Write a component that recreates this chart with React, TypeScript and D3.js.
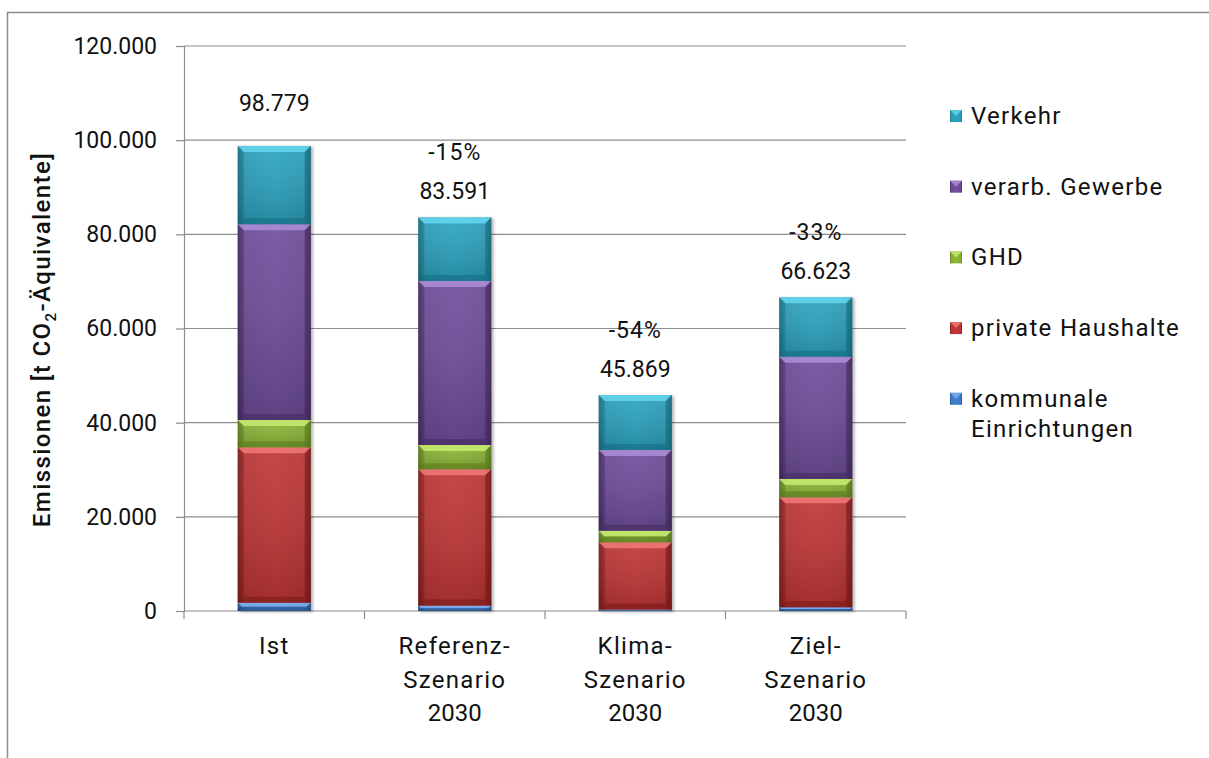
import React, { useEffect, useRef } from 'react';
import * as d3 from 'd3';

const categories = ['Ist', 'Referenz-\nSzenario\n2030', 'Klima-\nSzenario\n2030', 'Ziel-\nSzenario\n2030'];
const kommunale = [1760, 1150, 300, 800];
const privateHH = [33000, 28950, 14300, 23350];
const ghd = [5800, 5150, 2450, 3900];
const verarb = [41600, 34850, 17150, 25950];
const verkehr = [16619, 13491, 11669, 12623];
const totalLabels = ['98.779', '83.591', '45.869', '66.623'];
const pctLabels = ['', '-15%', '-54%', '-33%'];
const yTicks = [0, 20000, 40000, 60000, 80000, 100000, 120000];

const seriesNames = ['kommunale Einrichtungen', 'private Haushalte', 'GHD', 'verarb. Gewerbe', 'Verkehr'];
const seriesValues = [kommunale, privateHH, ghd, verarb, verkehr];
const seriesColors = [
  { base: '#3f78c4', light: '#7fb0ee', dark: '#244e86' },
  { base: '#b73333', light: '#f07a78', dark: '#7a1a1a' },
  { base: '#86ad35', light: '#c8ec72', dark: '#5a7a1e' },
  { base: '#6a4a94', light: '#ab8fd8', dark: '#43295f' },
  { base: '#2a9bb6', light: '#66d6ee', dark: '#176c80' },
];

const FONT = 'Roboto, "DejaVu Sans", sans-serif';

const App = () => {
  const svgRef = useRef<SVGSVGElement>(null);

  useEffect(() => {
    document.body.style.margin = '0';
    const svg = d3.select(svgRef.current);
    svg.selectAll('*').remove();

    const W = 1209;
    const H = 758;
    svg.attr('width', W).attr('height', H);

    // outer frame (runs off the right and bottom edge)
    svg.append('rect')
      .attr('x', 7.5).attr('y', 12.5)
      .attr('width', W + 20).attr('height', H + 20)
      .attr('fill', 'white').attr('stroke', '#8c8c8c').attr('stroke-width', 1.5);

    const x = d3.scaleBand<number>()
      .domain(d3.range(categories.length))
      .range([184, 906])
      .paddingInner(0.595)
      .paddingOuter(0.2975);

    const y = d3.scaleLinear().domain([0, 120000]).range([611, 46]);

    const defs = svg.append('defs');
    seriesColors.forEach((c, i) => {
      const g = defs.append('linearGradient').attr('id', `grad${i}`)
        .attr('x1', 0).attr('x2', 1).attr('y1', 0).attr('y2', 0);
      g.append('stop').attr('offset', '0%').attr('stop-color', c.dark);
      g.append('stop').attr('offset', '10%').attr('stop-color', c.base);
      g.append('stop').attr('offset', '50%').attr('stop-color', d3.color(c.base)!.brighter(0.15).formatHex());
      g.append('stop').attr('offset', '90%').attr('stop-color', c.base);
      g.append('stop').attr('offset', '100%').attr('stop-color', c.dark);
      const v = defs.append('linearGradient').attr('id', `vgrad${i}`)
        .attr('x1', 0).attr('x2', 0).attr('y1', 0).attr('y2', 1);
      v.append('stop').attr('offset', '0%').attr('stop-color', 'white').attr('stop-opacity', 0.08);
      v.append('stop').attr('offset', '100%').attr('stop-color', 'black').attr('stop-opacity', 0.15);
    });
    const shadow = defs.append('filter').attr('id', 'shadow')
      .attr('x', '-20%').attr('y', '-5%').attr('width', '140%').attr('height', '110%');
    shadow.append('feDropShadow').attr('dx', 2).attr('dy', 1).attr('stdDeviation', 1.5)
      .attr('flood-color', '#000').attr('flood-opacity', 0.3);

    // gridlines
    svg.append('g')
      .selectAll('line')
      .data(yTicks.slice(1))
      .enter()
      .append('line')
      .attr('x1', 184).attr('x2', 906)
      .attr('y1', d => y(d)).attr('y2', d => y(d))
      .attr('stroke', '#8c8c8c').attr('stroke-width', 1.2);

    // y axis
    const yAxis = svg.append('g')
      .attr('transform', 'translate(184,0)')
      .call(d3.axisLeft(y).tickValues(yTicks).tickSize(8).tickPadding(19)
        .tickFormat(d => d3.format(',')(d as number).replace(/,/g, '.')));
    yAxis.select('.domain').attr('stroke', '#8c8c8c').attr('stroke-width', 1.2);
    yAxis.selectAll('.tick line').attr('stroke', '#8c8c8c').attr('stroke-width', 1.2);
    yAxis.selectAll('.tick text')
      .attr('fill', '#111').style('font-size', '23px').style('font-family', FONT);

    // x axis
    const step = x.step();
    svg.append('line')
      .attr('x1', 184).attr('x2', 906).attr('y1', y(0)).attr('y2', y(0))
      .attr('stroke', '#8c8c8c').attr('stroke-width', 1.2);
    svg.append('g')
      .selectAll('line')
      .data(d3.range(categories.length + 1))
      .enter()
      .append('line')
      .attr('x1', d => 184 + d * step).attr('x2', d => 184 + d * step)
      .attr('y1', y(0)).attr('y2', y(0) + 8)
      .attr('stroke', '#8c8c8c').attr('stroke-width', 1.2);

    // stacked bars
    const bars = svg.append('g');
    categories.forEach((_, ci) => {
      const bx = x(ci)!;
      const bw = x.bandwidth();
      const group = bars.append('g').attr('filter', 'url(#shadow)');
      let acc = 0;
      seriesValues.forEach((vals, si) => {
        const v = vals[ci];
        const y0 = y(acc + v);
        const y1 = y(acc);
        acc += v;
        const h = y1 - y0;
        const c = seriesColors[si];
        const b = Math.min(6, h / 2);
        const seg = group.append('g');
        seg.append('rect')
          .attr('x', bx).attr('y', y0).attr('width', bw).attr('height', h)
          .attr('fill', `url(#grad${si})`);
        seg.append('rect')
          .attr('x', bx).attr('y', y0).attr('width', bw).attr('height', h)
          .attr('fill', `url(#vgrad${si})`);
        // top bevel
        seg.append('path')
          .attr('d', `M${bx},${y0}L${bx + bw},${y0}L${bx + bw - b},${y0 + b}L${bx + b},${y0 + b}Z`)
          .attr('fill', c.light).attr('opacity', 0.85);
        // bottom bevel
        seg.append('path')
          .attr('d', `M${bx},${y1}L${bx + bw},${y1}L${bx + bw - b},${y1 - b}L${bx + b},${y1 - b}Z`)
          .attr('fill', c.dark).attr('opacity', 0.55);
        // left / right bevels
        seg.append('path')
          .attr('d', `M${bx},${y0}L${bx + b},${y0 + b}L${bx + b},${y1 - b}L${bx},${y1}Z`)
          .attr('fill', c.dark).attr('opacity', 0.3);
        seg.append('path')
          .attr('d', `M${bx + bw},${y0}L${bx + bw - b},${y0 + b}L${bx + bw - b},${y1 - b}L${bx + bw},${y1}Z`)
          .attr('fill', c.dark).attr('opacity', 0.55);
      });
    });

    // value labels
    categories.forEach((_, ci) => {
      const total = seriesValues.reduce((s, vals) => s + vals[ci], 0);
      const cx = x(ci)! + x.bandwidth() / 2;
      const top = y(total);
      svg.append('text')
        .attr('x', cx).attr('y', pctLabels[ci] ? top - 18 : top - 35)
        .attr('text-anchor', 'middle')
        .style('font-family', FONT).style('font-size', '23px').attr('fill', '#111')
        .text(totalLabels[ci]);
      if (pctLabels[ci]) {
        svg.append('text')
          .attr('x', cx).attr('y', top - 57)
          .attr('text-anchor', 'middle')
          .style('font-family', FONT).style('font-size', '23px').attr('fill', '#111')
          .style('letter-spacing', '1px')
          .text(pctLabels[ci]);
      }
    });

    // category labels
    categories.forEach((label, ci) => {
      const cx = x(ci)! + x.bandwidth() / 2;
      const t = svg.append('text')
        .attr('text-anchor', 'middle')
        .style('font-family', FONT).style('font-size', '24px').attr('fill', '#111');
      label.split('\n').forEach((line, li) => {
        t.append('tspan').attr('x', cx).attr('y', 654 + li * 33.5)
          .style('letter-spacing', /^\d+$/.test(line) ? '0px' : '1.3px')
          .text(line);
      });
    });

    // y axis title
    const yt = svg.append('text')
      .attr('transform', `translate(50,${(y(0) + y(120000)) / 2 + 11}) rotate(-90)`)
      .attr('text-anchor', 'middle')
      .style('font-family', FONT).style('font-size', '24px').style('font-weight', 500)
      .style('letter-spacing', '1.4px')
      .attr('fill', '#111');
    yt.append('tspan').text('Emissionen [t CO');
    yt.append('tspan').attr('dy', 6).style('font-size', '15px').text('2');
    yt.append('tspan').attr('dy', -6).text('-Äquivalente]');

    // legend
    const legendOrder = [4, 3, 2, 1, 0];
    legendOrder.forEach((si, li) => {
      const ly = 116 + li * 70.7;
      const c = seriesColors[si];
      svg.append('rect')
        .attr('x', 950).attr('y', ly - 6).attr('width', 12).attr('height', 12)
        .attr('fill', `url(#grad${si})`);
      svg.append('path')
        .attr('d', `M950,${ly - 6}L962,${ly - 6}L956,${ly}Z`)
        .attr('fill', c.light).attr('opacity', 0.8);
      const words = si === 0 ? ['kommunale', 'Einrichtungen'] : [seriesNames[si]];
      const t = svg.append('text')
        .style('font-family', FONT).style('font-size', '24px').attr('fill', '#111')
        .style('letter-spacing', '1.3px');
      words.forEach((w, wi) => {
        t.append('tspan').attr('x', 971).attr('y', ly + 8 + wi * 30).text(w);
      });
    });
  }, []);

  return (
    <div>
      <svg ref={svgRef}></svg>
    </div>
  );
};

export default App;
